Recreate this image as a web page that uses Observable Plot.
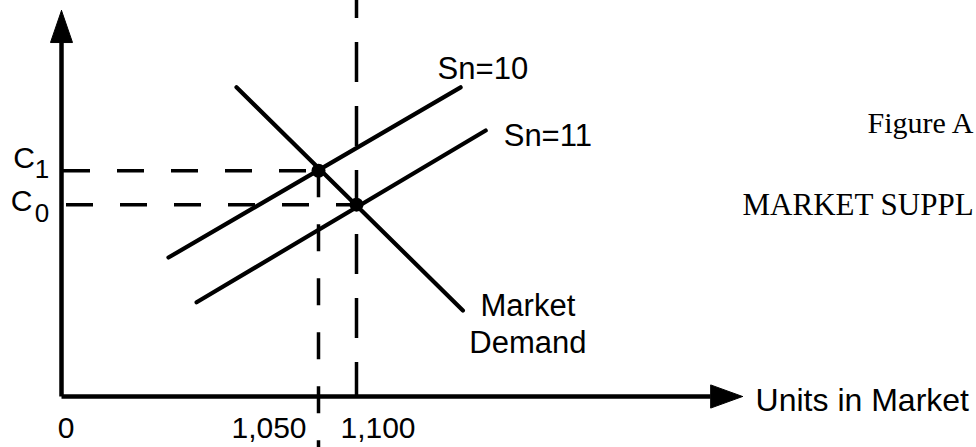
<!DOCTYPE html>
<html><head><meta charset="utf-8">
<script src="https://cdn.jsdelivr.net/npm/d3@7"></script>
<script src="https://cdn.jsdelivr.net/npm/@observablehq/plot@0.6"></script>
<style>html,body{margin:0;padding:0;background:#fff;overflow:hidden}</style>
</head><body><div id="chart"></div>
<script>
// ---- data (units in market vs. cost, conceptual diagram) ----
const supplySn10 = [{units: 437, cost: 36.0}, {units: 1237, cost: 80.1}];
const supplySn11 = [{units: 552, cost: 24.4}, {units: 1270, cost: 68.9}];
const marketDemand = [{units: 715, cost: 80.1}, {units: 1240, cost: 22.3}];
const equilibria = [
  {name: "C1", sub: "1", units: 1050, cost: 58.5},
  {name: "C0", sub: "0", units: 1100, cost: 49.7}
];
const tickUnits = [0, 1050, 1100];
const tickLabels = ["0", "1,050", "1,100"];
const curveLabels = ["Sn=10", "Sn=11", "Market", "Demand"];
const xAxisLabel = "Units in Market";
const figureTitle = "Figure A";
const figureSubtitle = "MARKET SUPPL";
const xAxisEnd = 1566, xArrowTip = 1608;
const yAxisEnd = 91.7, yArrowTip = 100, yTop = 102.6, yBottom = -13.2;

const axisY = [{units: 0, cost: 0}, {units: 0, cost: yAxisEnd}];
const axisX = [{units: 0, cost: 0}, {units: xAxisEnd, cost: 0}];
const arrowY = [{units: 0, cost: yArrowTip}, {units: -45, cost: yAxisEnd}, {units: 45, cost: yAxisEnd}, {units: 0, cost: yArrowTip}];
const arrowX = [{units: xArrowTip, cost: 0}, {units: xAxisEnd, cost: 3}, {units: xAxisEnd, cost: -3}, {units: xArrowTip, cost: 0}];

const eq1 = equilibria[0], eq0 = equilibria[1];
const sans = "Liberation Sans, Arial, Helvetica, sans-serif";
const serif = "Liberation Serif, Times New Roman, serif";

const chart = Plot.plot({
  width: 976,
  height: 447,
  margin: 0,
  style: {fontFamily: sans, background: "white", color: "black"},
  x: {type: "linear", domain: [0, 1050, 1100, 1600], range: [61, 318, 356, 736], axis: null},
  y: {type: "linear", domain: [0, 100], range: [396, 10], axis: null},
  marks: [
    // dashed guides
    Plot.ruleY([eq1], {y: "cost", x1: 0, x2: "units", strokeWidth: 3.5, strokeDasharray: "27,27", strokeDashoffset: -2}),
    Plot.ruleY([eq0], {y: "cost", x1: 0, x2: "units", strokeWidth: 3.5, strokeDasharray: "27,27", strokeDashoffset: -5}),
    Plot.ruleX([eq1], {x: "units", y1: "cost", y2: yBottom, strokeWidth: 3.5, strokeDasharray: "27,27", strokeDashoffset: 0}),
    Plot.ruleX([eq0], {x: "units", y1: yTop, y2: 0, strokeWidth: 3.5, strokeDasharray: "40,24", strokeDashoffset: 22}),
    // axes
    Plot.line(axisY, {x: "units", y: "cost", strokeWidth: 4.5, strokeLinecap: "butt"}),
    Plot.line(axisX, {x: "units", y: "cost", strokeWidth: 4.5, strokeLinecap: "butt"}),
    Plot.line(arrowY, {x: "units", y: "cost", fill: "black", stroke: "black", strokeWidth: 1}),
    Plot.line(arrowX, {x: "units", y: "cost", fill: "black", stroke: "black", strokeWidth: 1}),
    // curves
    Plot.line(supplySn10, {x: "units", y: "cost", strokeWidth: 4.2, strokeLinecap: "round"}),
    Plot.line(supplySn11, {x: "units", y: "cost", strokeWidth: 4.2, strokeLinecap: "round"}),
    Plot.line(marketDemand, {x: "units", y: "cost", strokeWidth: 4.2, strokeLinecap: "round"}),
    Plot.dot(equilibria, {x: "units", y: "cost", r: 7, fill: "black", stroke: "none"}),
    // curve labels
    Plot.text([supplySn10[1]], {x: "units", y: "cost", text: () => curveLabels[0], textAnchor: "start", dx: -23, dy: -18.7, fontSize: 31}),
    Plot.text([supplySn11[1]], {x: "units", y: "cost", text: () => curveLabels[1], textAnchor: "start", dx: 18, dy: 5.1, fontSize: 31}),
    Plot.text([marketDemand[1]], {x: "units", y: "cost", text: () => curveLabels[2], textAnchor: "middle", dx: 65, dy: -4.8, fontSize: 31}),
    Plot.text([marketDemand[1]], {x: "units", y: "cost", text: () => curveLabels[3], textAnchor: "middle", dx: 65, dy: 32.2, fontSize: 31}),
    // axis labels
    Plot.text([{units: xArrowTip, cost: 0}], {x: "units", y: "cost", text: () => xAxisLabel, textAnchor: "start", dx: 13, dy: 3.8, fontSize: 32}),
    Plot.text([tickUnits[0]], {x: d => d, y: 0, text: () => tickLabels[0], textAnchor: "middle", dx: 4.5, dy: 31.4, fontSize: 30}),
    Plot.text([tickUnits[1]], {x: d => d, y: 0, text: () => tickLabels[1], textAnchor: "middle", dx: -49.5, dy: 31.4, fontSize: 30}),
    Plot.text([tickUnits[2]], {x: d => d, y: 0, text: () => tickLabels[2], textAnchor: "middle", dx: 21.5, dy: 31.4, fontSize: 30}),
    // cost labels C1, C0
    Plot.text([eq1], {x: 0, y: "cost", text: () => "C", textAnchor: "middle", dx: -37.5, dy: -12.5, fontSize: 30}),
    Plot.text([eq1], {x: 0, y: "cost", text: "sub", textAnchor: "middle", dx: -19.5, dy: -1.5, fontSize: 26}),
    Plot.text([eq0], {x: 0, y: "cost", text: () => "C", textAnchor: "middle", dx: -40, dy: -2.8, fontSize: 30}),
    Plot.text([eq0], {x: 0, y: "cost", text: "sub", textAnchor: "middle", dx: -19.5, dy: 9.5, fontSize: 26}),
    // figure captions (as much as the reference shows)
    Plot.text([figureTitle], {frameAnchor: "top-left", text: d => d, textAnchor: "start", lineAnchor: "middle", dx: 867, dy: 123, fontSize: 30, fontFamily: serif}),
    Plot.text([figureSubtitle], {frameAnchor: "top-left", text: d => d, textAnchor: "start", lineAnchor: "middle", dx: 742, dy: 205, fontSize: 31, fontFamily: serif})
  ]
});
document.getElementById("chart").append(chart);
</script>
</body></html>
